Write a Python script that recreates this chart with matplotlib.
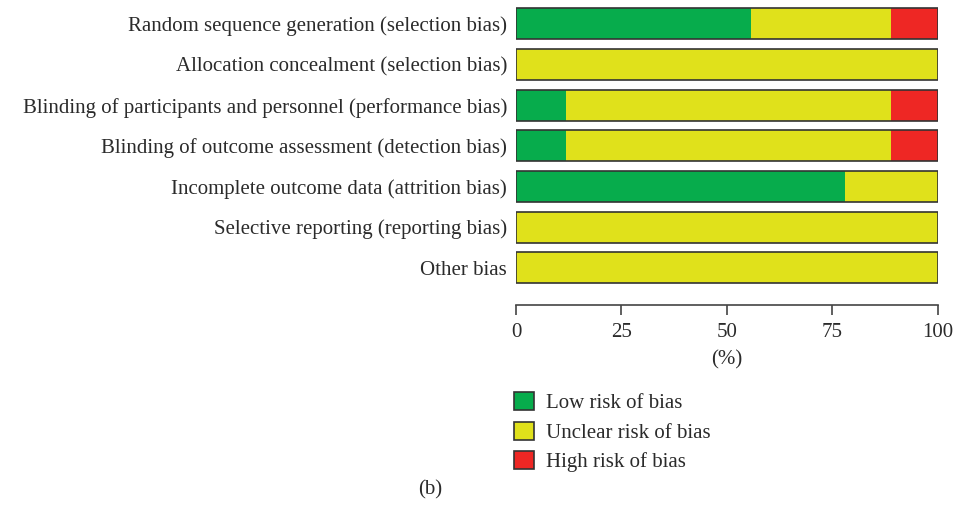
import matplotlib.pyplot as plt
from matplotlib.patches import Patch

# risk of bias domains, top to bottom
domains = [
    "Random sequence generation (selection bias)",
    "Allocation concealment (selection bias)",
    "Blinding of participants and personnel (performance bias)",
    "Blinding of outcome assessment (detection bias)",
    "Incomplete outcome data (attrition bias)",
    "Selective reporting (reporting bias)",
    "Other bias",
]
low_risk = [55.6, 0, 11.8, 11.8, 78.0, 0, 0]
unclear_risk = [33.3, 100, 77.1, 77.1, 22.0, 100, 100]
high_risk = [11.1, 0, 11.1, 11.1, 0, 0, 0]
legend_labels = ["Low risk of bias", "Unclear risk of bias", "High risk of bias"]
x_ticks = [0, 25, 50, 75, 100]

c_low = "#07ac4c"
c_unclear = "#e0e11b"
c_high = "#ee2724"
txt = "#2b2b2b"

plt.rcParams['font.family'] = ['Liberation Serif', 'DejaVu Serif']
fs = 15

fig = plt.figure(figsize=(9.54, 5.08), dpi=100)
ax = fig.add_axes([516 / 954, 1 - 305 / 508, 422 / 954, 305 / 508])

ypos = list(range(len(domains)))
h = 0.76
left2 = [a + b for a, b in zip(low_risk, unclear_risk)]
ax.barh(ypos, low_risk, height=h, color=c_low, linewidth=0)
ax.barh(ypos, unclear_risk, left=low_risk, height=h, color=c_unclear, linewidth=0)
ax.barh(ypos, high_risk, left=left2, height=h, color=c_high, linewidth=0)
totals = [a + b + c for a, b, c in zip(low_risk, unclear_risk, high_risk)]
ax.barh(ypos, totals, height=h, fill=False, edgecolor="#333333", linewidth=1.2)

ax.set_xlim(0, 100)
ax.set_ylim(6.915, -0.583)
ax.set_yticks(ypos)
ax.set_yticklabels(domains, fontsize=fs, color=txt)
ax.tick_params(axis='y', length=0, pad=6.5)
ax.set_xticks(x_ticks)
ax.set_xticklabels([str(t) for t in x_ticks], fontsize=fs, color=txt)
ax.tick_params(axis='x', length=7, width=1.2, color="#444444", pad=6)
ax.set_xlabel("(%)", fontsize=fs, color=txt, labelpad=6)

for s in ['left', 'top', 'right']:
    ax.spines[s].set_visible(False)
ax.spines['bottom'].set_color("#444444")
ax.spines['bottom'].set_linewidth(1.2)

handles = [Patch(facecolor=c, edgecolor="#333333", linewidth=1.2)
           for c in (c_low, c_unclear, c_high)]
fig.legend(handles, legend_labels, loc='upper left',
           bbox_to_anchor=(514 / 954, 1 - 392 / 508), frameon=False,
           fontsize=fs, handlelength=0.96, handleheight=0.96,
           handletextpad=0.6, labelspacing=0.4, borderpad=0,
           borderaxespad=0, labelcolor=txt)

fig.text(430 / 954, 1 - 490 / 508, "(b)", fontsize=fs, color=txt,
         ha='center', va='center')

fig.savefig("out.png", dpi=100)
